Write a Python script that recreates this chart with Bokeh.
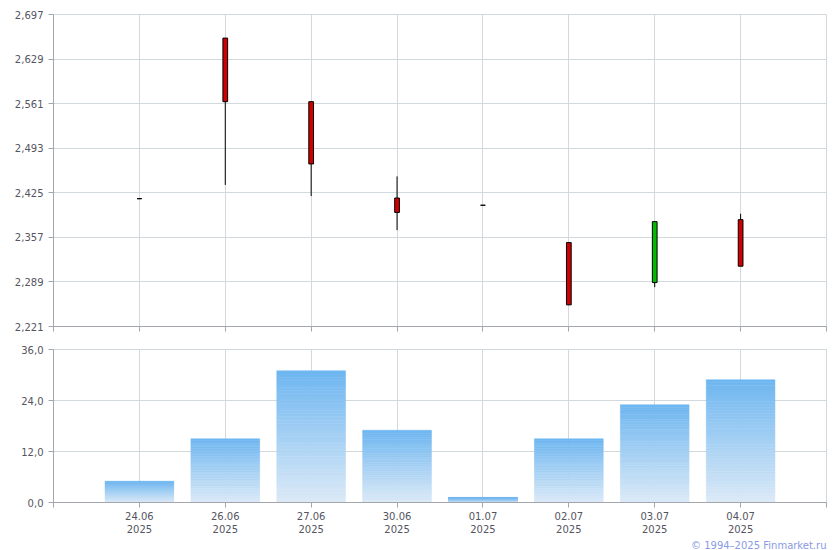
from bokeh.plotting import figure
from bokeh.layouts import column
from bokeh.models import (FixedTicker, CustomJSTickFormatter, Range1d, Title)
from bokeh.embed import file_html
from bokeh.resources import INLINE

# ---- data ----
dates = ["24.06\n2025", "26.06\n2025", "27.06\n2025", "30.06\n2025",
         "01.07\n2025", "02.07\n2025", "03.07\n2025", "04.07\n2025"]
opens = [2.416, 2.661, 2.564, 2.417, 2.406, 2.349, 2.288, 2.384]
highs = [2.416, 2.661, 2.564, 2.450, 2.406, 2.349, 2.381, 2.393]
lows = [2.416, 2.437, 2.420, 2.368, 2.406, 2.254, 2.281, 2.313]
closes = [2.416, 2.564, 2.469, 2.395, 2.406, 2.254, 2.381, 2.313]
volumes = [5.0, 15.0, 31.0, 17.0, 1.2, 15.0, 23.0, 28.9]
price_ticks = [2.221, 2.289, 2.357, 2.425, 2.493, 2.561, 2.629, 2.697]
volume_ticks = [0, 12, 24, 36]

FONT = "DejaVu Sans"
LBL = "#55555f"
AXIS = "#a4a6ae"
GRID = "#d2d9dd"

n = len(dates)
xs = list(range(n))
cat_ticks = [-1] + xs + [n]

W = 838
LEFT = 53
RIGHT = 12


def style(p):
    p.outline_line_color = GRID
    p.xgrid.grid_line_color = GRID
    p.ygrid.grid_line_color = GRID
    p.xgrid.ticker = FixedTicker(ticks=xs)
    p.min_border_left = LEFT
    p.min_border_right = RIGHT
    for ax in (p.xaxis[0], p.yaxis[0]):
        ax.axis_line_color = AXIS
        ax.major_tick_line_color = AXIS
        ax.minor_tick_line_color = None
        ax.major_tick_in = 0
        ax.major_tick_out = 5
        ax.major_label_text_font = FONT
        ax.major_label_text_font_size = "10px"
        ax.major_label_text_color = LBL


# ---- price figure ----
p1 = figure(width=W, height=334, output_backend="svg", toolbar_location=None,
            x_range=Range1d(-1, n), y_range=Range1d(2.221, 2.697))
style(p1)
p1.min_border_top = 14
p1.min_border_bottom = 8
p1.yaxis.ticker = FixedTicker(ticks=price_ticks)
p1.yaxis.formatter = CustomJSTickFormatter(
    code="return tick.toFixed(3).replace('.', ',');")
p1.xaxis.ticker = FixedTicker(ticks=cat_ticks)
p1.xaxis.formatter = CustomJSTickFormatter(code="return '';")
p1.xaxis.major_label_standoff = 0

p1.segment(x0=xs, x1=xs, y0=lows, y1=highs, line_color="black", line_width=1)
bot = [min(o, c) for o, c in zip(opens, closes)]
top = [max(o, c) for o, c in zip(opens, closes)]
colors = ["#00bb00" if c > o else "#d00000" for o, c in zip(opens, closes)]
p1.vbar(x=xs, bottom=bot, top=top, width=0.055, fill_color=colors,
        line_color="black", line_width=1)

# ---- volume figure ----
p2 = figure(width=W, height=216, output_backend="svg", toolbar_location=None,
            x_range=p1.x_range, y_range=Range1d(0, 36))
style(p2)
p2.min_border_top = 15
p2.yaxis.ticker = FixedTicker(ticks=volume_ticks)
p2.yaxis.formatter = CustomJSTickFormatter(
    code="return tick.toFixed(1).replace('.', ',');")
p2.xaxis.ticker = FixedTicker(ticks=cat_ticks)
p2.xaxis.formatter = CustomJSTickFormatter(
    args=dict(labels=dates),
    code="const i = Math.round(tick); return (i >= 0 && i < labels.length) ? labels[i] : '';")
p2.xaxis.major_label_standoff = 3

# gradient bars: each bar split into horizontal slices
top_rgb = (0x6e, 0xb6, 0xf0)
bot_rgb = (0xdc, 0xea, 0xf7)
N = 40
qx0, qx1, qb, qt, qc = [], [], [], [], []
for x, v in zip(xs, volumes):
    for k in range(N):
        f = (k + 0.5) / N
        r = [int(round(b + (t - b) * f)) for b, t in zip(bot_rgb, top_rgb)]
        qx0.append(x - 0.4)
        qx1.append(x + 0.4)
        qb.append(v * k / N)
        qt.append(v * (k + 1) / N)
        qc.append("#%02x%02x%02x" % tuple(r))
p2.quad(left=qx0, right=qx1, bottom=qb, top=qt, fill_color=qc,
        line_color=qc, line_width=0.5)

p2.add_layout(Title(text="© 1994–2025 Finmarket.ru", align="right",
                    text_font=FONT, text_font_size="10px",
                    text_font_style="normal", text_color="#8a9ae6",
                    standoff=0), "below")

layout = column(p1, p2, spacing=0)
open("out.html", "w").write(file_html(layout, INLINE))
